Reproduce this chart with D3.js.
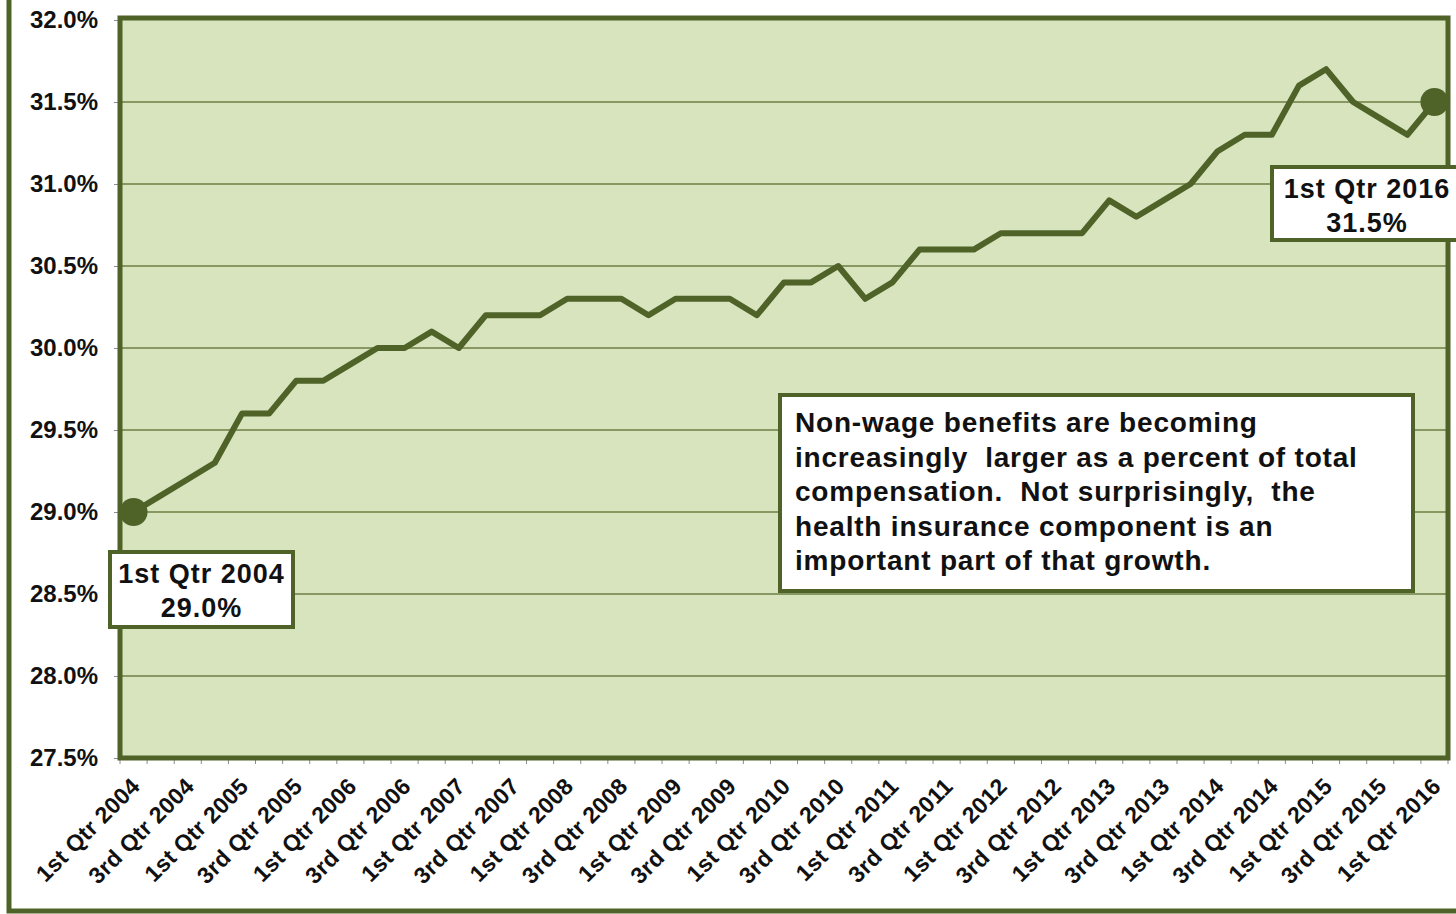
<!DOCTYPE html>
<html>
<head>
<meta charset="utf-8">
<script src="https://cdn.jsdelivr.net/npm/d3@7"></script>
<style>
  html, body { margin: 0; padding: 0; background: #ffffff; }
  svg { display: block; }
  text { font-family: "Liberation Sans", Arial, sans-serif; font-weight: bold; }
</style>
</head>
<body>
<div id="chart"></div>
<script>
// quarters 1st Qtr 2004 .. 1st Qtr 2016
var quarters = [];
var qNames = ["1st", "2nd", "3rd", "4th"];
for (var yr = 2004; yr <= 2016; yr++) {
  for (var q = 0; q < 4; q++) {
    if (yr == 2016 && q > 0) break;
    quarters.push(qNames[q] + " Qtr " + yr);
  }
}

// non-wage benefits share of total compensation (%)
var values = [
  29.0, 29.1, 29.2, 29.3, 29.6, 29.6, 29.8, 29.8, 29.9, 30.0,
  30.0, 30.1, 30.0, 30.2, 30.2, 30.2, 30.3, 30.3, 30.3, 30.2,
  30.3, 30.3, 30.3, 30.2, 30.4, 30.4, 30.5, 30.3, 30.4, 30.6,
  30.6, 30.6, 30.7, 30.7, 30.7, 30.7, 30.9, 30.8, 30.9, 31.0,
  31.2, 31.3, 31.3, 31.6, 31.7, 31.5, 31.4, 31.3, 31.5
];

var yTicks = [27.5, 28.0, 28.5, 29.0, 29.5, 30.0, 30.5, 31.0, 31.5, 32.0];

var noteLines = [
  "Non-wage benefits are becoming",
  "increasingly  larger as a percent of total",
  "compensation.  Not surprisingly,  the",
  "health insurance component is an",
  "important part of that growth."
];

var width = 1456, height = 914;
// plot area edges (note: "top" is reserved on window, so use other names)
var plotL = 120, plotR = 1448, plotT = 18, plotB = 758;
var dark = "#4f6228";

var svg = d3.select("#chart").append("svg")
  .attr("width", width)
  .attr("height", height);

// outer chart frame
svg.append("rect")
  .attr("x", 9).attr("y", -20)
  .attr("width", 1480).attr("height", 931)
  .attr("fill", "#ffffff")
  .attr("stroke", dark)
  .attr("stroke-width", 5);

var x = d3.scaleBand()
  .domain(quarters)
  .range([plotL, plotR])
  .paddingInner(0).paddingOuter(0);

var y = d3.scaleLinear()
  .domain([27.5, 32.0])
  .range([plotB, plotT + 2]);

// plot area
svg.append("rect")
  .attr("x", plotL).attr("y", plotT)
  .attr("width", plotR - plotL).attr("height", plotB - plotT)
  .attr("fill", "#d7e4bd");

// gridlines
svg.append("g")
  .selectAll("line")
  .data(yTicks.slice(1, -1))
  .enter()
  .append("line")
  .attr("x1", plotL).attr("x2", plotR)
  .attr("y1", function (d) { return y(d); })
  .attr("y2", function (d) { return y(d); })
  .attr("stroke", "#6d7f45")
  .attr("stroke-width", 1.3);

// y axis
var yAxis = d3.axisLeft(y)
  .tickValues(yTicks)
  .tickSize(6)
  .tickPadding(16)
  .tickFormat(function (d) { return d.toFixed(1) + "%"; });

var gy = svg.append("g")
  .attr("transform", "translate(" + plotL + ",0)")
  .call(yAxis);
gy.select(".domain").remove();
gy.selectAll(".tick line").attr("stroke", "#8c8c8c");
gy.selectAll(".tick text")
  .attr("font-size", 24)
  .attr("fill", "#111")
  .attr("font-family", "Liberation Sans, Arial, sans-serif")
  .attr("font-weight", "bold");

// x axis ticks at category boundaries
svg.append("g")
  .selectAll("line")
  .data(d3.range(quarters.length + 1))
  .enter()
  .append("line")
  .attr("x1", function (i) { return plotL + i * x.bandwidth(); })
  .attr("x2", function (i) { return plotL + i * x.bandwidth(); })
  .attr("y1", plotB).attr("y2", plotB + 6)
  .attr("stroke", "#8c8c8c");

// x labels, every other quarter
svg.append("g")
  .selectAll("text")
  .data(quarters.filter(function (d, i) { return i % 2 == 0; }))
  .enter()
  .append("text")
  .attr("transform", function (d) {
    var cx = x(d) + x.bandwidth() / 2;
    return "translate(" + (cx + 2) + "," + (plotB + 24) + ") rotate(-45)";
  })
  .attr("text-anchor", "end")
  .attr("dy", "0.35em")
  .attr("font-size", 23)
  .attr("letter-spacing", 0.3)
  .attr("fill", "#111")
  .text(function (d) { return d; });

// plot border
svg.append("rect")
  .attr("x", plotL).attr("y", plotT)
  .attr("width", plotR - plotL).attr("height", plotB - plotT)
  .attr("fill", "none")
  .attr("stroke", dark)
  .attr("stroke-width", 5);

// the line
var line = d3.line()
  .x(function (d, i) { return x(quarters[i]) + x.bandwidth() / 2; })
  .y(function (d) { return y(d); });

svg.append("path")
  .datum(values)
  .attr("d", line)
  .attr("fill", "none")
  .attr("stroke", dark)
  .attr("stroke-width", 6)
  .attr("stroke-linejoin", "round");

// end markers
var ends = [0, values.length - 1];
svg.append("g")
  .selectAll("circle")
  .data(ends)
  .enter()
  .append("circle")
  .attr("cx", function (i) { return x(quarters[i]) + x.bandwidth() / 2; })
  .attr("cy", function (i) { return y(values[i]); })
  .attr("r", 14)
  .attr("fill", dark);

// data callouts
function callout(i, bx, by, bw, bh) {
  var g = svg.append("g");
  g.append("rect")
    .attr("x", bx).attr("y", by)
    .attr("width", bw).attr("height", bh)
    .attr("fill", "#ffffff")
    .attr("stroke", dark)
    .attr("stroke-width", 4);
  g.append("text")
    .attr("x", bx + bw / 2).attr("y", by + 31)
    .attr("text-anchor", "middle")
    .attr("font-size", 27)
    .attr("letter-spacing", 1)
    .attr("fill", "#111")
    .text(quarters[i]);
  g.append("text")
    .attr("x", bx + bw / 2).attr("y", by + 65)
    .attr("text-anchor", "middle")
    .attr("font-size", 27)
    .attr("letter-spacing", 1)
    .attr("fill", "#111")
    .text(values[i].toFixed(1) + "%");
}
callout(0, 110, 552, 183, 75);
callout(values.length - 1, 1272, 167, 190, 73);

// note box
var note = svg.append("g");
note.append("rect")
  .attr("x", 780).attr("y", 395)
  .attr("width", 633).attr("height", 196)
  .attr("fill", "#ffffff")
  .attr("stroke", dark)
  .attr("stroke-width", 4);
note.selectAll("text")
  .data(noteLines)
  .enter()
  .append("text")
  .attr("x", 795)
  .attr("y", function (d, i) { return 432 + i * 34.5; })
  .attr("font-size", 28)
  .attr("letter-spacing", 0.8)
  .attr("fill", "#111")
  .attr("xml:space", "preserve")
  .style("white-space", "pre")
  .text(function (d) { return d; });
</script>
</body>
</html>
